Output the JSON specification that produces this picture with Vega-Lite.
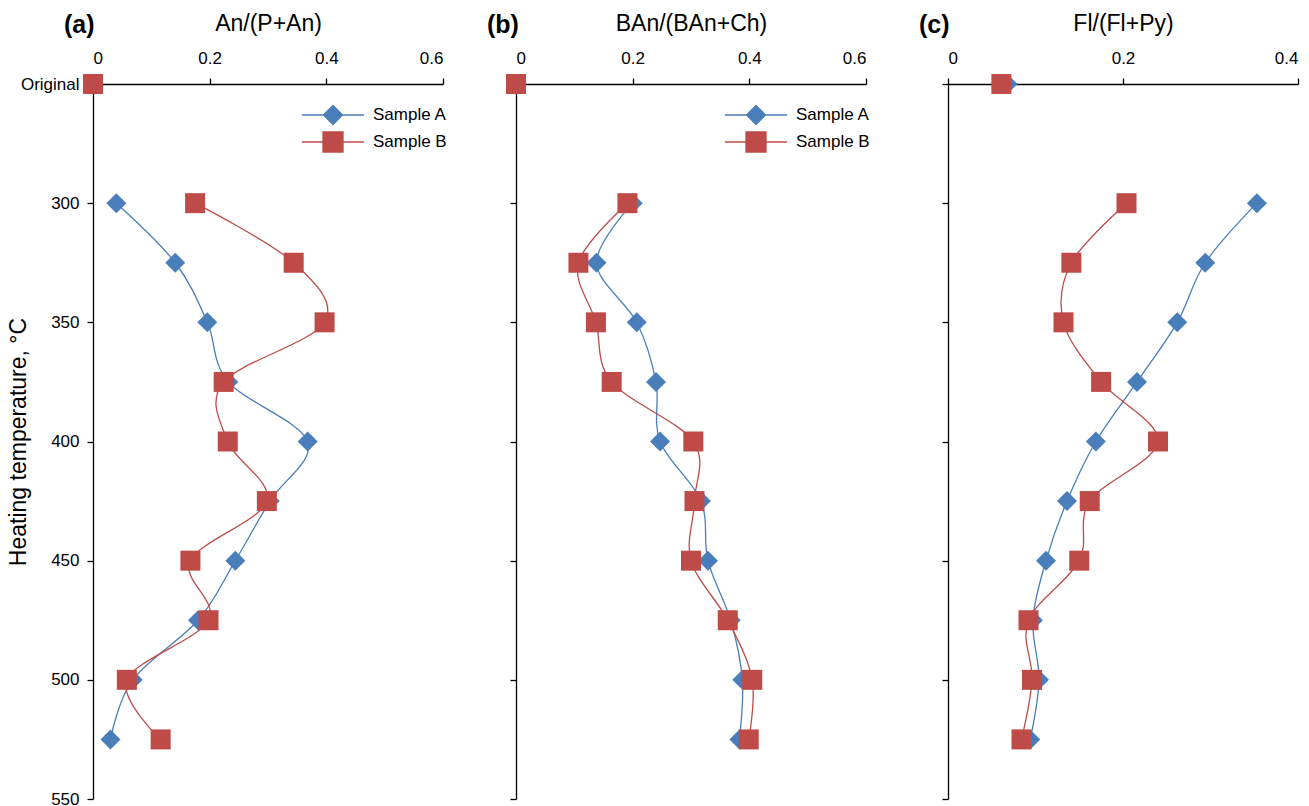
{
  "$schema": "https://vega.github.io/schema/vega-lite/v6.json",
  "background": "white",
  "padding": {"left": 7, "top": 12, "right": 5, "bottom": 0},
  "config": {
    "font": "Liberation Sans",
    "view": {"stroke": null},
    "axis": {
      "grid": false,
      "domainColor": "#000",
      "tickColor": "#000",
      "labelColor": "#000",
      "titleColor": "#000",
      "labelFontSize": 17,
      "titleFontSize": 23,
      "titleFontWeight": "normal",
      "tickSize": 6,
      "domainWidth": 1.3,
      "tickWidth": 1.3
    },
    "legend": {"labelFontSize": 17, "labelColor": "#000", "labelFont": "Liberation Sans"},
    "title": {"fontSize": 25, "fontWeight": "bold", "color": "#000"}
  },
  "datasets": {
    "d": [
      {"panel": "a", "sample": "Sample A", "T": 250, "value": 0},
      {"panel": "a", "sample": "Sample A", "T": 300, "value": 0.040},
      {"panel": "a", "sample": "Sample A", "T": 325, "value": 0.141},
      {"panel": "a", "sample": "Sample A", "T": 350, "value": 0.196},
      {"panel": "a", "sample": "Sample A", "T": 375, "value": 0.232},
      {"panel": "a", "sample": "Sample A", "T": 400, "value": 0.368},
      {"panel": "a", "sample": "Sample A", "T": 425, "value": 0.303},
      {"panel": "a", "sample": "Sample A", "T": 450, "value": 0.244},
      {"panel": "a", "sample": "Sample A", "T": 475, "value": 0.180},
      {"panel": "a", "sample": "Sample A", "T": 500, "value": 0.068},
      {"panel": "a", "sample": "Sample A", "T": 525, "value": 0.030},
      {"panel": "a", "sample": "Sample B", "T": 250, "value": 0},
      {"panel": "a", "sample": "Sample B", "T": 300, "value": 0.175},
      {"panel": "a", "sample": "Sample B", "T": 325, "value": 0.344},
      {"panel": "a", "sample": "Sample B", "T": 350, "value": 0.397},
      {"panel": "a", "sample": "Sample B", "T": 375, "value": 0.224},
      {"panel": "a", "sample": "Sample B", "T": 400, "value": 0.231},
      {"panel": "a", "sample": "Sample B", "T": 425, "value": 0.298},
      {"panel": "a", "sample": "Sample B", "T": 450, "value": 0.167},
      {"panel": "a", "sample": "Sample B", "T": 475, "value": 0.198},
      {"panel": "a", "sample": "Sample B", "T": 500, "value": 0.058},
      {"panel": "a", "sample": "Sample B", "T": 525, "value": 0.116},
      {"panel": "b", "sample": "Sample A", "T": 250, "value": 0},
      {"panel": "b", "sample": "Sample A", "T": 300, "value": 0.200},
      {"panel": "b", "sample": "Sample A", "T": 325, "value": 0.138},
      {"panel": "b", "sample": "Sample A", "T": 350, "value": 0.207},
      {"panel": "b", "sample": "Sample A", "T": 375, "value": 0.240},
      {"panel": "b", "sample": "Sample A", "T": 400, "value": 0.247},
      {"panel": "b", "sample": "Sample A", "T": 425, "value": 0.317},
      {"panel": "b", "sample": "Sample A", "T": 450, "value": 0.329},
      {"panel": "b", "sample": "Sample A", "T": 475, "value": 0.368},
      {"panel": "b", "sample": "Sample A", "T": 500, "value": 0.388},
      {"panel": "b", "sample": "Sample A", "T": 525, "value": 0.383},
      {"panel": "b", "sample": "Sample B", "T": 250, "value": 0},
      {"panel": "b", "sample": "Sample B", "T": 300, "value": 0.191},
      {"panel": "b", "sample": "Sample B", "T": 325, "value": 0.107},
      {"panel": "b", "sample": "Sample B", "T": 350, "value": 0.137},
      {"panel": "b", "sample": "Sample B", "T": 375, "value": 0.164},
      {"panel": "b", "sample": "Sample B", "T": 400, "value": 0.304},
      {"panel": "b", "sample": "Sample B", "T": 425, "value": 0.306},
      {"panel": "b", "sample": "Sample B", "T": 450, "value": 0.300},
      {"panel": "b", "sample": "Sample B", "T": 475, "value": 0.363},
      {"panel": "b", "sample": "Sample B", "T": 500, "value": 0.405},
      {"panel": "b", "sample": "Sample B", "T": 525, "value": 0.399},
      {"panel": "c", "sample": "Sample A", "T": 250, "value": 0.068},
      {"panel": "c", "sample": "Sample A", "T": 300, "value": 0.353},
      {"panel": "c", "sample": "Sample A", "T": 325, "value": 0.294},
      {"panel": "c", "sample": "Sample A", "T": 350, "value": 0.262},
      {"panel": "c", "sample": "Sample A", "T": 375, "value": 0.216},
      {"panel": "c", "sample": "Sample A", "T": 400, "value": 0.169},
      {"panel": "c", "sample": "Sample A", "T": 425, "value": 0.136},
      {"panel": "c", "sample": "Sample A", "T": 450, "value": 0.112},
      {"panel": "c", "sample": "Sample A", "T": 475, "value": 0.097},
      {"panel": "c", "sample": "Sample A", "T": 500, "value": 0.104},
      {"panel": "c", "sample": "Sample A", "T": 525, "value": 0.094},
      {"panel": "c", "sample": "Sample B", "T": 250, "value": 0.061},
      {"panel": "c", "sample": "Sample B", "T": 300, "value": 0.204},
      {"panel": "c", "sample": "Sample B", "T": 325, "value": 0.141},
      {"panel": "c", "sample": "Sample B", "T": 350, "value": 0.132},
      {"panel": "c", "sample": "Sample B", "T": 375, "value": 0.175},
      {"panel": "c", "sample": "Sample B", "T": 400, "value": 0.240},
      {"panel": "c", "sample": "Sample B", "T": 425, "value": 0.162},
      {"panel": "c", "sample": "Sample B", "T": 450, "value": 0.150},
      {"panel": "c", "sample": "Sample B", "T": 475, "value": 0.092},
      {"panel": "c", "sample": "Sample B", "T": 500, "value": 0.096},
      {"panel": "c", "sample": "Sample B", "T": 525, "value": 0.084}
    ]
  },
  "data": {"name": "d"},
  "bounds": "flush",
  "spacing": 73,
  "hconcat": [
    {
      "width": 350,
      "height": 715,
      "title": {"text": "(a)", "anchor": "start", "frame": "group", "dx": -29, "dy": 30},
      "transform": [{"filter": "datum.panel === 'a'"}],
      "encoding": {
        "x": {"field": "value", "type": "quantitative",
              "scale": {"domain": [0, 0.6], "nice": false},
              "axis": {"orient": "top", "values": [0, 0.2, 0.4, 0.6], "format": "~g", "title": "An/(P+An)", "labelPadding": 11, "titlePadding": 14}},
        "y": {"field": "T", "type": "quantitative",
              "scale": {"domain": [250, 550], "reverse": true, "nice": false, "zero": false},
              "axis": {"values": [250, 300, 350, 400, 450, 500, 550], "labelExpr": "datum.value == 250 ? 'Original' : datum.label", "title": "Heating temperature, °C", "labelPadding": 8, "titlePadding": -10}},
        "color": {"field": "sample", "type": "nominal",
                  "scale": {"domain": ["Sample A", "Sample B"], "range": ["#4A7EBB", "#BE4B48"]},
                  "legend": {"title": null, "orient": "none", "legendX": 229, "legendY": 20, "labelFontSize": 17, "labelColor": "#000", "labelOffset": 29, "symbolSize": 400, "rowPadding": 1, "padding": 0,
                    "encode": {"symbols": {"update": {
                      "shape": {"signal": "datum.value === 'Sample A' ? 'M-3.1,0L3.1,0M-0.95,0L0,-0.95L0.95,0L0,0.95Z' : 'M-3.1,0L3.1,0M-1,-1L1,-1L1,1L-1,1Z'"},
                      "stroke": {"signal": "datum.value === 'Sample A' ? '#4A7EBB' : '#BE4B48'"},
                      "strokeWidth": {"value": 1.3},
                      "opacity": {"value": 1}}},
                      "labels": {"update": {"fontSize": {"value": 17}}}}}}
      },
      "layer": [
        {"transform": [{"filter": "datum.T >= 300"}],
         "mark": {"type": "line", "interpolate": "cardinal", "strokeWidth": 1.3},
         "encoding": {"order": {"field": "T", "type": "quantitative"}}},
        {"transform": [{"filter": "datum.sample === 'Sample A'"}],
         "mark": {"type": "point", "shape": "diamond", "filled": true, "opacity": 1, "size": 400}},
        {"transform": [{"filter": "datum.sample === 'Sample B'"}],
         "mark": {"type": "point", "shape": "square", "filled": true, "opacity": 1, "size": 400}}
      ]
    },
    {
      "bounds": "flush",
      "spacing": 82,
      "hconcat": [
        {
          "width": 350,
          "height": 715,
          "title": {"text": "(b)", "anchor": "start", "frame": "group", "dx": -29, "dy": 30},
          "transform": [{"filter": "datum.panel === 'b'"}],
          "encoding": {
            "x": {"field": "value", "type": "quantitative",
                  "scale": {"domain": [0, 0.6], "nice": false},
                  "axis": {"orient": "top", "values": [0, 0.2, 0.4, 0.6], "format": "~g", "title": "BAn/(BAn+Ch)", "labelPadding": 11, "titlePadding": 14}},
            "y": {"field": "T", "type": "quantitative",
                  "scale": {"domain": [250, 550], "reverse": true, "nice": false, "zero": false},
                  "axis": {"values": [250, 300, 350, 400, 450, 500, 550], "labels": false, "title": null}},
            "color": {"field": "sample", "type": "nominal",
                      "scale": {"domain": ["Sample A", "Sample B"], "range": ["#4A7EBB", "#BE4B48"]},
                      "legend": {"title": null, "orient": "none", "legendX": 229, "legendY": 20, "labelFontSize": 17, "labelColor": "#000", "labelOffset": 29, "symbolSize": 400, "rowPadding": 1, "padding": 0,
                        "encode": {"symbols": {"update": {
                          "shape": {"signal": "datum.value === 'Sample A' ? 'M-3.1,0L3.1,0M-0.95,0L0,-0.95L0.95,0L0,0.95Z' : 'M-3.1,0L3.1,0M-1,-1L1,-1L1,1L-1,1Z'"},
                          "stroke": {"signal": "datum.value === 'Sample A' ? '#4A7EBB' : '#BE4B48'"},
                          "strokeWidth": {"value": 1.3},
                          "opacity": {"value": 1}}},
                          "labels": {"update": {"fontSize": {"value": 17}}}}}}
          },
          "layer": [
            {"transform": [{"filter": "datum.T >= 300"}],
             "mark": {"type": "line", "interpolate": "cardinal", "strokeWidth": 1.3},
             "encoding": {"order": {"field": "T", "type": "quantitative"}}},
            {"transform": [{"filter": "datum.sample === 'Sample A'"}],
             "mark": {"type": "point", "shape": "diamond", "filled": true, "opacity": 1, "size": 400}},
            {"transform": [{"filter": "datum.sample === 'Sample B'"}],
             "mark": {"type": "point", "shape": "square", "filled": true, "opacity": 1, "size": 400}}
          ]
        },
        {
          "width": 350,
          "height": 715,
          "title": {"text": "(c)", "anchor": "start", "frame": "group", "dx": -29, "dy": 30},
          "transform": [{"filter": "datum.panel === 'c'"}],
          "encoding": {
            "x": {"field": "value", "type": "quantitative",
                  "scale": {"domain": [0, 0.4], "nice": false},
                  "axis": {"orient": "top", "values": [0, 0.2, 0.4], "format": "~g", "title": "Fl/(Fl+Py)", "labelPadding": 11, "titlePadding": 14}},
            "y": {"field": "T", "type": "quantitative",
                  "scale": {"domain": [250, 550], "reverse": true, "nice": false, "zero": false},
                  "axis": {"values": [250, 300, 350, 400, 450, 500, 550], "labels": false, "title": null}},
            "color": {"field": "sample", "type": "nominal",
                      "scale": {"domain": ["Sample A", "Sample B"], "range": ["#4A7EBB", "#BE4B48"]},
                      "legend": {"title": null, "orient": "none", "legendX": 229, "legendY": 20, "labelFontSize": 17, "labelColor": "#000", "labelOffset": 29, "symbolSize": 400, "rowPadding": 1, "padding": 0,
                        "encode": {"symbols": {"update": {
                          "shape": {"signal": "datum.value === 'Sample A' ? 'M-3.1,0L3.1,0M-0.95,0L0,-0.95L0.95,0L0,0.95Z' : 'M-3.1,0L3.1,0M-1,-1L1,-1L1,1L-1,1Z'"},
                          "stroke": {"signal": "datum.value === 'Sample A' ? '#4A7EBB' : '#BE4B48'"},
                          "strokeWidth": {"value": 1.3},
                          "opacity": {"value": 1}}},
                          "labels": {"update": {"fontSize": {"value": 17}}}}}}
          },
          "layer": [
            {"transform": [{"filter": "datum.T >= 300"}],
             "mark": {"type": "line", "interpolate": "cardinal", "strokeWidth": 1.3},
             "encoding": {"order": {"field": "T", "type": "quantitative"}}},
            {"transform": [{"filter": "datum.sample === 'Sample A'"}],
             "mark": {"type": "point", "shape": "diamond", "filled": true, "opacity": 1, "size": 400}},
            {"transform": [{"filter": "datum.sample === 'Sample B'"}],
             "mark": {"type": "point", "shape": "square", "filled": true, "opacity": 1, "size": 400}}
          ]
        }
      ]
    }
  ],
  "resolve": {"scale": {"x": "independent", "color": "independent"}, "legend": {"color": "independent"}}
}
